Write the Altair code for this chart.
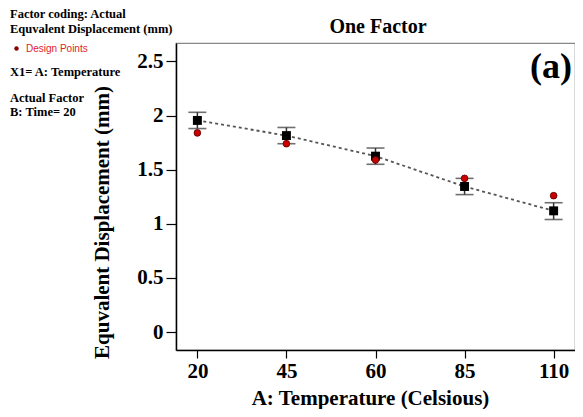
import altair as alt
import pandas as pd

temps = ["20", "45", "60", "85", "110"]
predicted = [1.955, 1.815, 1.625, 1.345, 1.12]
upper = [2.03, 1.89, 1.70, 1.42, 1.195]
lower = [1.88, 1.74, 1.55, 1.27, 1.04]
design = [1.84, 1.74, 1.59, 1.42, 1.26]

df = pd.DataFrame({"temp": temps, "pred": predicted, "hi": upper, "lo": lower, "design": design})

SERIF = "Liberation Serif"
xscale = alt.Scale(domain=temps, type="point", padding=0.24)
yscale = alt.Scale(domain=[-0.165, 2.67], nice=False, zero=False)

base = alt.Chart(df)

x_enc = alt.X("temp:N", scale=xscale, sort=temps,
              axis=alt.Axis(title="A: Temperature (Celsious)", labelAngle=0,
                            labelFont=SERIF, labelFontWeight="bold", labelFontSize=21,
                            labelColor="black", labelPadding=2,
                            titleFont=SERIF, titleFontWeight="bold", titleFontSize=21,
                            titleColor="black", titleX=194, titleY=48,
                            titleAlign="center", titleBaseline="middle",
                            tickSize=8, tickColor="black", tickWidth=1.2,
                            domainColor="black", domainWidth=1.5, grid=False))
y_enc = alt.Y("pred:Q", scale=yscale,
              axis=alt.Axis(title="Equvalent Displacement (mm)", values=[0, 0.5, 1, 1.5, 2, 2.5],
                            format="~g", labelFont=SERIF, labelFontWeight="bold", labelFontSize=21,
                            labelColor="black", labelPadding=3,
                            titleFont=SERIF, titleFontWeight="bold", titleFontSize=21,
                            titleColor="black", titleAngle=-90, titleX=-74, titleY=179,
                            titleAlign="center", titleBaseline="middle",
                            tickSize=10, tickColor="black", tickWidth=1.2,
                            domainColor="black", domainWidth=1.5, grid=False))

line = base.mark_line(color="#555555", strokeDash=[3, 3], strokeWidth=1.8).encode(x=x_enc, y=y_enc)
bars = base.mark_rule(color="#333333", strokeWidth=1.5).encode(
    x=alt.X("temp:N", scale=xscale, sort=temps),
    y=alt.Y("lo:Q", scale=yscale), y2="hi:Q")
cap_hi = base.mark_tick(color="#333333", size=18, thickness=1.6, orient="horizontal").encode(
    x=alt.X("temp:N", scale=xscale, sort=temps), y=alt.Y("hi:Q", scale=yscale))
cap_lo = base.mark_tick(color="#333333", size=18, thickness=1.6, orient="horizontal").encode(
    x=alt.X("temp:N", scale=xscale, sort=temps), y=alt.Y("lo:Q", scale=yscale))
squares = base.mark_point(shape="square", filled=True, size=80, color="black", opacity=1).encode(
    x=alt.X("temp:N", scale=xscale, sort=temps), y=alt.Y("pred:Q", scale=yscale))
dots = base.mark_point(shape="circle", filled=True, size=45, color="#cc0000", opacity=1,
                       stroke="#550000", strokeWidth=0.8).encode(
    x=alt.X("temp:N", scale=xscale, sort=temps), y=alt.Y("design:Q", scale=yscale))

def txt(s, x, y, size=12.5, color="black", font=SERIF, weight="bold", align="left"):
    return alt.Chart(pd.DataFrame({"t": [s]})).mark_text(
        font=font, fontWeight=weight, fontSize=size, color=color, align=align, baseline="middle"
    ).encode(x=alt.value(x), y=alt.value(y), text="t:N")

legend_dot = alt.Chart(pd.DataFrame({"t": ["."]})).mark_point(
    shape="circle", filled=True, size=20, color="#880000", opacity=1
).encode(x=alt.value(-159.5), y=alt.value(5.5))

texts = [
    txt("Factor coding: Actual", -166, -29),
    txt("Equvalent Displacement (mm)", -166, -14),
    txt("Design Points", -150, 5.5, size=10, color="#e0202a", font="Liberation Sans", weight="normal"),
    txt("X1= A: Temperature", -166, 28.5),
    txt("Actual Factor", -166, 55),
    txt("B: Time= 20", -166, 69),
    txt("One Factor", 202, -16, size=20, align="center"),
    txt("(a)", 375, 24, size=36, align="center"),
]

chart = alt.layer(line, bars, cap_hi, cap_lo, squares, dots, legend_dot, *texts).properties(
    width=399, height=307,
    padding={"left": 168, "top": 35, "right": 0, "bottom": 59},
    autosize=alt.AutoSizeParams(type="none"),
).configure_view(stroke="#888888", strokeWidth=1.2)

chart.save("out.html", embed_options={"renderer": "svg", "actions": False})
